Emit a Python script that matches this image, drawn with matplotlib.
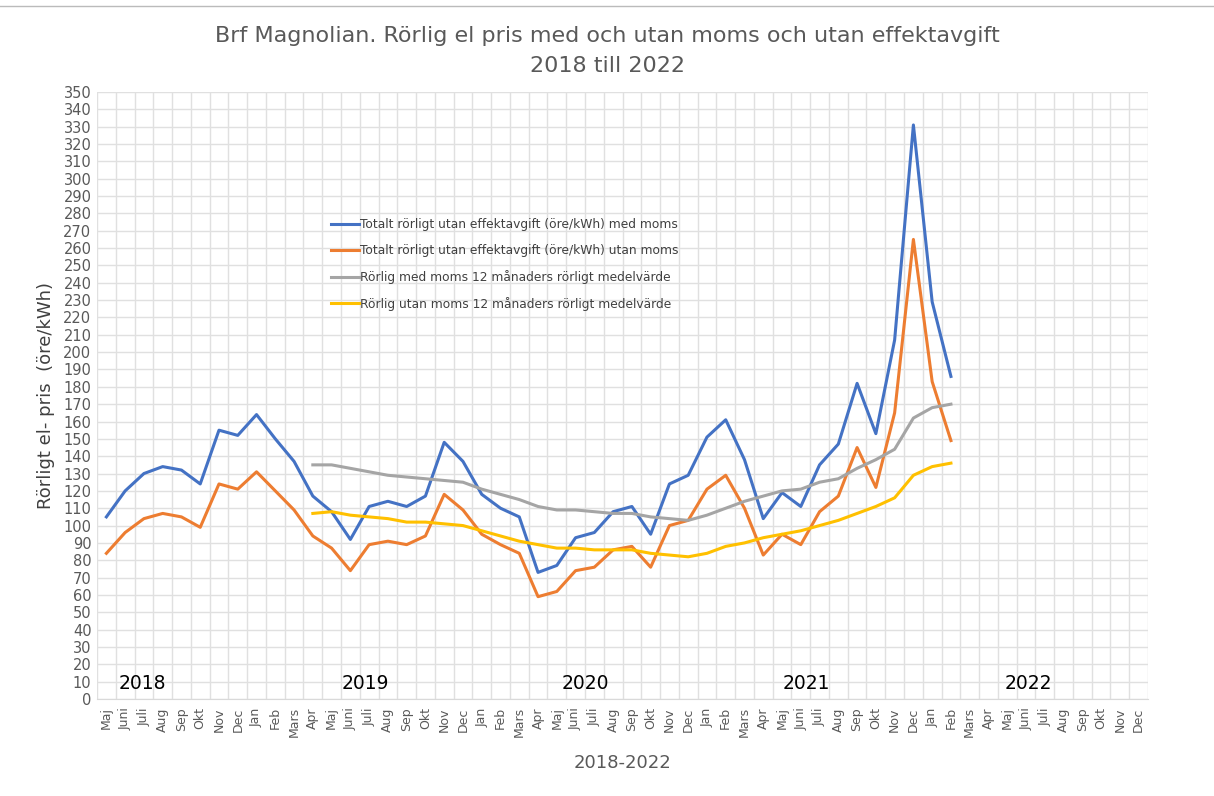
import numpy as np
import matplotlib
matplotlib.use("Agg")
import matplotlib.pyplot as plt

# x-kategorier: Maj 2018 - Dec 2022
manader = (["Maj", "Juni", "Juli", "Aug", "Sep", "Okt", "Nov", "Dec"] +
           ["Jan", "Feb", "Mars", "Apr", "Maj", "Juni", "Juli", "Aug", "Sep", "Okt", "Nov", "Dec"] * 4)

# Totalt rörligt med moms (Maj 2018 - Feb 2022)
med_moms = [105, 120, 130, 134, 132, 124, 155, 152, 164, 150, 137, 117,
            108, 92, 111, 114, 111, 117, 148, 137, 118, 110, 105, 73,
            77, 93, 96, 108, 111, 95, 124, 129, 151, 161, 138, 104,
            119, 111, 135, 147, 182, 153, 207, 331, 229, 186]

# Totalt rörligt utan moms
utan_moms = [84, 96, 104, 107, 105, 99, 124, 121, 131, 120, 109, 94,
             87, 74, 89, 91, 89, 94, 118, 109, 95, 89, 84, 59,
             62, 74, 76, 86, 88, 76, 100, 103, 121, 129, 110, 83,
             95, 89, 108, 117, 145, 122, 165, 265, 183, 149]

# 12 månaders medelvärde, från Apr 2019
start_medel = 11
medel_med = [135, 135, 133, 131, 129, 128, 127, 126, 125, 121, 118, 115,
             111, 109, 109, 108, 107, 107, 105, 104, 103, 106, 110, 114,
             117, 120, 121, 125, 127, 133, 138, 144, 162, 168, 170]
medel_utan = [107, 108, 106, 105, 104, 102, 102, 101, 100, 97, 94, 91,
              89, 87, 87, 86, 86, 86, 84, 83, 82, 84, 88, 90,
              93, 95, 97, 100, 103, 107, 111, 116, 129, 134, 136]

ar_text = ["2018", "2019", "2020", "2021", "2022"]
ar_pos = [1.9, 13.8, 25.5, 37.3, 49.1]

fig = plt.figure(figsize=(12.14, 7.96), dpi=100)
ax = fig.add_axes([97/1214, 1 - 699/796, 1051/1214, 607/796])

x = np.arange(len(med_moms))
xm = np.arange(start_medel, start_medel + len(medel_med))
ax.plot(x, med_moms, color="#4472C4", lw=2.2, label="Totalt rörligt utan effektavgift (öre/kWh) med moms")
ax.plot(x, utan_moms, color="#ED7D31", lw=2.2, label="Totalt rörligt utan effektavgift (öre/kWh) utan moms")
ax.plot(xm, medel_med, color="#A5A5A5", lw=2.2, label="Rörlig med moms 12 månaders rörligt medelvärde")
ax.plot(xm, medel_utan, color="#FFC000", lw=2.2, label="Rörlig utan moms 12 månaders rörligt medelvärde")

ax.set_xlim(-0.5, len(manader) - 0.5)
ax.set_ylim(0, 350)
ax.set_yticks(np.arange(0, 351, 10))
ax.set_xticks(np.arange(len(manader)))
ax.set_xticklabels(manader, rotation=90, fontsize=9, color="#595959")
ax.set_xticks(np.arange(-0.5, len(manader), 1), minor=True)
ax.tick_params(axis="y", labelsize=10.5, colors="#595959", length=0, pad=4)
ax.tick_params(axis="x", which="both", length=0, pad=6)
ax.grid(True, axis="y", color="#e0e0e0", lw=1)
ax.grid(True, axis="x", which="minor", color="#e0e0e0", lw=1)
ax.set_axisbelow(True)
for s in ["top", "right", "left"]:
    ax.spines[s].set_visible(False)
ax.spines["bottom"].set_color("#d9d9d9")

for t, p in zip(ar_text, ar_pos):
    ax.text(p, 9, t, fontsize=13.5, ha="center", va="center", color="black")

ax.set_ylabel("Rörligt el- pris  (öre/kWh)", fontsize=13, color="#404040", labelpad=6)
ax.set_xlabel("2018-2022", fontsize=13, color="#595959", labelpad=12)
fig.suptitle("Brf Magnolian. Rörlig el pris med och utan moms och utan effektavgift\n2018 till 2022",
             fontsize=16, color="#595959", y=1 - 26/796, va="top", linespacing=1.65)

leg = ax.legend(loc="upper left", bbox_to_anchor=(0.212, 0.81), frameon=False,
                fontsize=8.8, labelcolor="#404040", handlelength=2.3, handletextpad=0.1,
                labelspacing=1.05)

fig.add_artist(plt.Line2D([0, 1], [1 - 6/796, 1 - 6/796], color="#bbbbbb", lw=1))

fig.savefig("out.png", dpi=100, facecolor="white")
